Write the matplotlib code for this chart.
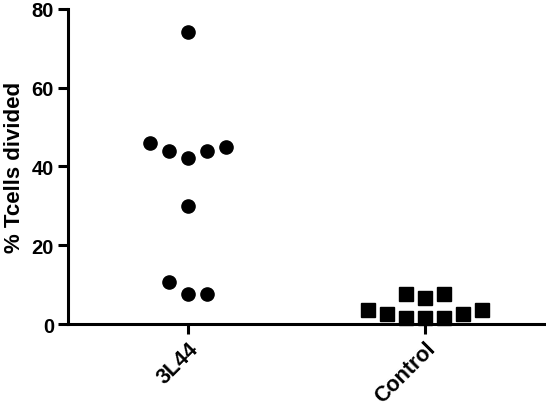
import matplotlib
matplotlib.use("Agg")
import matplotlib.pyplot as plt

groups = ["3L44", "Control"]
vals_3l44 = [74, 46, 44, 42, 44, 45, 30, 10.7, 7.7, 7.7]
vals_control = [3.6, 2.6, 1.6, 7.7, 1.6, 6.7, 1.6, 7.7, 2.6, 3.6]
yticks = [0, 20, 40, 60, 80]


def swarm_offsets(values, min_gap=4.5):
    # greedy column scatter: try centre, then right, left, further out
    order = sorted(range(len(values)), key=lambda i: values[i])
    tries = [0]
    for k in range(1, 10):
        tries += [k, -k]
    placed = []
    offs = [0] * len(values)
    for i in order:
        for s in tries:
            if all(not (ps == s and abs(pv - values[i]) < min_gap) for ps, pv in placed):
                offs[i] = s
                placed.append((s, values[i]))
                break
    return offs


plt.rcParams["font.family"] = ["Liberation Sans", "DejaVu Sans"]
plt.rcParams["font.weight"] = "bold"

fig = plt.figure(figsize=(5.46, 4.10), dpi=100)
ax = fig.add_axes([0.1245, 0.207, 0.8736, 0.7695])

step = 0.08
for gi, (vals, marker) in enumerate([(vals_3l44, "o"), (vals_control, "s")]):
    offs = swarm_offsets(vals)
    xs = [gi + o * step for o in offs]
    ax.plot(xs, vals, linestyle="none", marker=marker, markersize=9.5,
            color="black", clip_on=False)

ax.set_xlim(-0.506, 1.506)
ax.set_ylim(0, 80)
ax.set_yticks(yticks)
ax.set_xticks(range(len(groups)))
ax.set_xticklabels(groups, rotation=45, ha="right", va="top",
                   rotation_mode="anchor", fontsize=15.5, fontweight="bold")
for lab in ax.get_yticklabels():
    lab.set_fontsize(14.5)
    lab.set_fontweight("bold")
ax.set_ylabel("% Tcells divided", fontsize=16, fontweight="bold", labelpad=5)

for side in ["top", "right"]:
    ax.spines[side].set_visible(False)
for side in ["left", "bottom"]:
    ax.spines[side].set_linewidth(2.2)
ax.tick_params(width=2.2, length=7, pad=3)

fig.savefig("out.png", dpi=100)
